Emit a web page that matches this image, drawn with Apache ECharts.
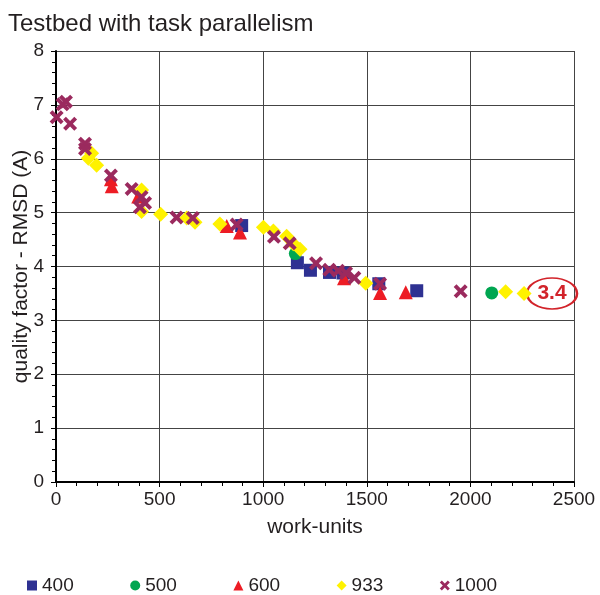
<!DOCTYPE html>
<html>
<head>
<meta charset="utf-8">
<script src="https://cdn.jsdelivr.net/npm/echarts@6/dist/echarts.min.js"></script>
<style>
html,body{margin:0;padding:0;background:#fff;}
#chart{width:600px;height:595px;}
</style>
</head>
<body>
<div id="chart"></div>
<script>
// ---- data ----
const seriesNames = ['400', '500', '600', '933', '1000'];
const xTicks = [0, 500, 1000, 1500, 2000, 2500];
const yTicks = [0, 1, 2, 3, 4, 5, 6, 7, 8];

const s400 = [[896, 4.76], [1165, 4.07], [1228, 3.93], [1320, 3.89], [1385, 3.88], [1558, 3.68], [1741, 3.55]];
const s500 = [[1155, 4.24], [2103, 3.51]];
const s600 = [[265, 5.62], [269, 5.49], [397, 5.30], [824, 4.75], [888, 4.63], [1390, 3.78], [1564, 3.51], [1688, 3.52]];
const s933 = [[156, 6.01], [172, 6.10], [196, 5.88], [413, 5.42], [413, 5.02], [505, 4.97], [631, 4.90], [671, 4.82],
              [791, 4.79], [1001, 4.73], [1049, 4.66], [1113, 4.56], [1145, 4.42], [1178, 4.32], [1495, 3.69],
              [2170, 3.53], [2259, 3.50]];
const s1000 = [[3, 6.77], [32, 7.01], [48, 7.06], [68, 6.65], [140, 6.28], [140, 6.18], [265, 5.69], [365, 5.44],
               [413, 5.29], [430, 5.18], [405, 5.10], [582, 4.91], [660, 4.90], [872, 4.78], [1052, 4.55],
               [1128, 4.43], [1255, 4.06], [1319, 3.94], [1362, 3.92], [1400, 3.88], [1440, 3.79], [1564, 3.68],
               [1953, 3.54]];

const annotationText = '3.4';
const annotationAt = [2394, 3.5];

// ---- styles ----
const colors = ['#2e3192', '#00a651', '#ed1c24', '#fff200', '#9b2a5e'];
const xPath = 'path://M0,2 L2,0 L5,3 L8,0 L10,2 L7,5 L10,8 L8,10 L5,7 L2,10 L0,8 L3,5 Z';
const symbols = ['rect', 'circle', 'triangle', 'diamond', xPath];
const sizes = [13, 13, 14, 15, 14];
const dataSets = [s400, s500, s600, s933, s1000];
const txt = '#231f20';
const font = 'Liberation Sans, Arial, Helvetica, sans-serif';

const series = dataSets.map((d, i) => ({
  name: seriesNames[i],
  type: 'scatter',
  data: d,
  symbol: symbols[i],
  symbolSize: sizes[i],
  itemStyle: { color: colors[i], opacity: 1 },
  emphasis: { disabled: true },
  z: 2 + i
}));

series[3].markPoint = {
  silent: true,
  symbol: 'circle',
  symbolSize: [50, 31],
  itemStyle: { color: 'rgba(255,255,255,0)', borderColor: '#d2232a', borderWidth: 2 },
  label: { show: true, position: 'inside', formatter: annotationText, color: '#d2232a',
           fontWeight: 'bold', fontSize: 21, fontFamily: font },
  data: [{ coord: annotationAt }]
};

const chart = echarts.init(document.getElementById('chart'), null, { renderer: 'canvas' });
chart.setOption({
  animation: false,
  backgroundColor: '#fff',
  title: {
    text: 'Testbed with task parallelism',
    left: 3, top: 7,
    textStyle: { fontSize: 24, fontWeight: 'normal', color: txt, fontFamily: font }
  },
  grid: { left: 56, right: 26, top: 51, bottom: 113, containLabel: false, outerBoundsMode: 'none' },
  legend: {
    left: 22, top: 571,
    itemWidth: 10, itemHeight: 10, itemGap: 56.5,
    textStyle: { fontSize: 19, color: txt, fontFamily: font },
    data: seriesNames.map((n, i) => ({ name: n, icon: symbols[i] }))
  },
  xAxis: {
    type: 'value', min: xTicks[0], max: xTicks[xTicks.length - 1], interval: 500,
    name: 'work-units', nameLocation: 'middle', nameGap: 35, nameMoveOverlap: false,
    nameTextStyle: { fontSize: 21, color: txt, fontFamily: font },
    axisLine: { show: true, onZero: false, lineStyle: { color: '#000', width: 2 } },
    axisTick: { show: true, inside: false, length: 5, lineStyle: { color: '#000' } },
    minorTick: { show: true, splitNumber: 5, length: 4, lineStyle: { color: '#000' } },
    axisLabel: { fontSize: 19, color: txt, fontFamily: font, margin: 8, formatter: v => String(v) },
    splitLine: { show: true, lineStyle: { color: '#444', width: 1 } }
  },
  yAxis: {
    type: 'value', min: yTicks[0], max: yTicks[yTicks.length - 1], interval: 1,
    name: 'quality factor - RMSD (A)', nameLocation: 'middle', nameGap: 24, nameMoveOverlap: false,
    nameTextStyle: { fontSize: 21, color: txt, fontFamily: font },
    axisLine: { show: true, onZero: false, lineStyle: { color: '#000', width: 2 } },
    axisTick: { show: true, inside: false, length: 5, lineStyle: { color: '#000' } },
    minorTick: { show: true, splitNumber: 5, length: 4, lineStyle: { color: '#000' } },
    axisLabel: { fontSize: 19, color: txt, fontFamily: font, margin: 12, formatter: v => String(v) },
    splitLine: { show: true, lineStyle: { color: '#444', width: 1 } }
  },
  series: series
});
</script>
</body>
</html>
